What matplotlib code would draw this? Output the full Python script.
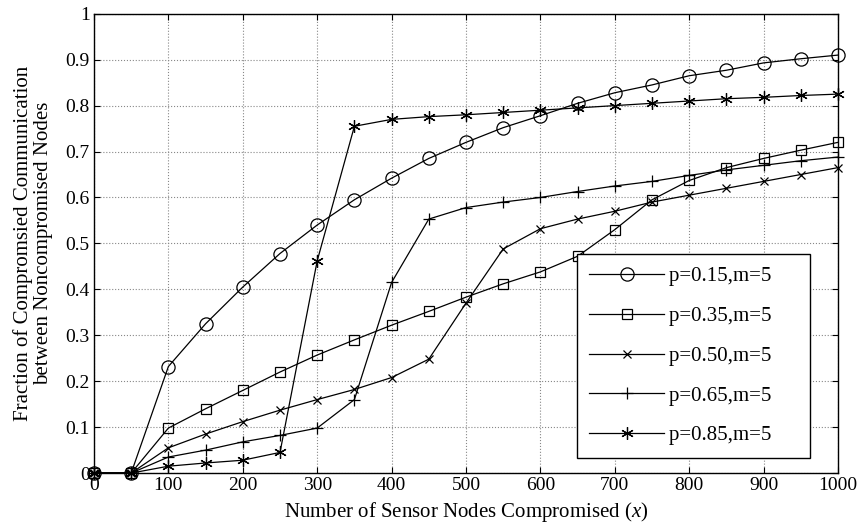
import matplotlib
matplotlib.use("Agg")
import matplotlib.pyplot as plt

plt.rcParams["font.family"] = ["Liberation Serif", "DejaVu Serif"]
plt.rcParams["mathtext.fontset"] = "custom"
plt.rcParams["mathtext.it"] = "Liberation Serif:italic"
plt.rcParams["mathtext.rm"] = "Liberation Serif"

x = [0, 50, 100, 150, 200, 250, 300, 350, 400, 450, 500,
     550, 600, 650, 700, 750, 800, 850, 900, 950, 1000]

p015 = [0, 0, 0.232, 0.325, 0.405, 0.478, 0.540, 0.595, 0.642, 0.685, 0.720,
        0.752, 0.778, 0.805, 0.828, 0.845, 0.865, 0.877, 0.893, 0.902, 0.910]
p035 = [0, 0, 0.098, 0.140, 0.180, 0.220, 0.257, 0.290, 0.322, 0.352, 0.383,
        0.412, 0.438, 0.472, 0.530, 0.595, 0.637, 0.665, 0.685, 0.703, 0.720]
p050 = [0, 0, 0.055, 0.085, 0.112, 0.137, 0.160, 0.182, 0.208, 0.248, 0.370,
        0.488, 0.532, 0.553, 0.570, 0.590, 0.605, 0.620, 0.635, 0.650, 0.665]
p065 = [0, 0, 0.035, 0.050, 0.068, 0.082, 0.098, 0.160, 0.415, 0.553, 0.578,
        0.590, 0.600, 0.613, 0.625, 0.635, 0.648, 0.660, 0.670, 0.680, 0.688]
p085 = [0, 0, 0.015, 0.022, 0.028, 0.045, 0.462, 0.755, 0.770, 0.776, 0.780,
        0.785, 0.790, 0.795, 0.800, 0.805, 0.810, 0.815, 0.818, 0.822, 0.825]

labels = ["p=0.15,m=5", "p=0.35,m=5", "p=0.50,m=5", "p=0.65,m=5", "p=0.85,m=5"]
# asterisk like matlab '*'
markers = [("o", 9.5), ("s", 7.5), ("x", 6), ("+", 8.5), ((6, 2, 0), 9)]

fig = plt.figure(figsize=(8.59, 5.28), dpi=100)
ax = fig.add_axes([0.1094, 0.104, 0.8662, 0.870])

for ys, lab, (mk, ms) in zip([p015, p035, p050, p065, p085], labels, markers):
    ax.plot(x, ys, color="black", linewidth=0.9, marker=mk, markersize=ms,
            markerfacecolor="none", markeredgecolor="black", markeredgewidth=0.9,
            label=lab + "     ", clip_on=False)

ax.set_xlim(0, 1000)
ax.set_ylim(0, 1)
ax.set_xticks(range(0, 1001, 100))
ax.set_yticks([i / 10 for i in range(11)])
ax.set_yticklabels(["0"] + [f"{i/10:.1f}" for i in range(1, 10)] + ["1"])
ax.tick_params(direction="in", top=True, right=True, labelsize=14, length=4,
               width=0.8, pad=3)
ax.grid(True, color="#888888", linestyle=":", linewidth=0.8)
for s in ax.spines.values():
    s.set_linewidth(1.0)

ax.set_xlabel("Number of Sensor Nodes Compromised ($x$)", fontsize=15, labelpad=4)
ax.set_ylabel("Fraction of Compromsied Communication\nbetween Noncompromised Nodes",
              fontsize=15, labelpad=9, linespacing=1.05)

leg = ax.legend(loc="lower right", bbox_to_anchor=(0.962, 0.033), fontsize=15,
                handlelength=3.6, fancybox=False, framealpha=1, edgecolor="black",
                borderpad=0.6, labelspacing=0.97, handletextpad=0.2,
                borderaxespad=0)
leg.get_frame().set_linewidth(1.0)

fig.savefig("out.png", dpi=100)
